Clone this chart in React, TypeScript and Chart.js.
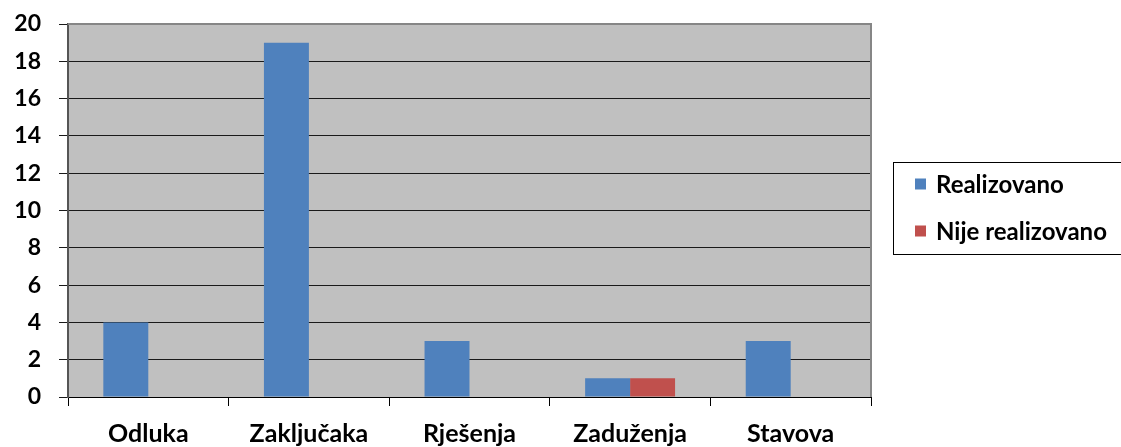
import React, { useEffect, useRef } from "react";
import { Chart, registerables } from "chart.js";

Chart.register(...registerables);

const categories = ["Odluka", "Zaključaka", "Rješenja", "Zaduženja", "Stavova"];
const realizovano = [4, 19, 3, 1, 3];
const nijeRealizovano = [0, 0, 0, 1, 0];
const seriesLabels = ["Realizovano", "Nije realizovano"];
const seriesColors = ["#4F81BD", "#C0504D"];
const yMin = 0;
const yMax = 20;
const yStep = 2;

const FONT = "Lato, 'Open Sans', sans-serif";

const plotBgPlugin = {
  id: "plotBg",
  beforeDraw(chart: any) {
    const { ctx, chartArea } = chart;
    ctx.save();
    ctx.fillStyle = "#C0C0C0";
    ctx.fillRect(chartArea.left, chartArea.top, chartArea.right - chartArea.left, chartArea.bottom - chartArea.top);
    ctx.restore();
  },
  afterDraw(chart: any) {
    const { ctx, chartArea } = chart;
    ctx.save();
    ctx.strokeStyle = "#868686";
    ctx.lineWidth = 2;
    ctx.beginPath();
    ctx.moveTo(chartArea.left, chartArea.top);
    ctx.lineTo(chartArea.right, chartArea.top);
    ctx.lineTo(chartArea.right, chartArea.bottom);
    ctx.stroke();

    const boxLeft = 893.5;
    const boxTop = 162.5;
    const boxRight = 1125;
    const boxBottom = 254.5;
    ctx.strokeStyle = "#000";
    ctx.lineWidth = 1;
    ctx.strokeRect(boxLeft, boxTop, boxRight - boxLeft, boxBottom - boxTop);
    const rowY = [184, 231];
    ctx.font = `bold 24px ${FONT}`;
    ctx.textBaseline = "middle";
    ctx.textAlign = "left";
    chart.data.datasets.forEach((ds: any, i: number) => {
      const y = rowY[i];
      ctx.fillStyle = ds.backgroundColor;
      ctx.fillRect(915, y - 5.5, 11, 11);
      ctx.fillStyle = "#000";
      ctx.fillText(ds.label, 936, y + 1);
    });
    ctx.restore();
  },
};

export default function App() {
  const ref = useRef<HTMLCanvasElement>(null);
  useEffect(() => {
    document.body.style.margin = "0";
    const canvas = ref.current;
    if (!canvas) return;
    const chart = new Chart(canvas, {
      type: "bar",
      data: {
        labels: categories,
        datasets: [
          { label: seriesLabels[0], data: realizovano, backgroundColor: seriesColors[0], borderWidth: 0 },
          { label: seriesLabels[1], data: nijeRealizovano, backgroundColor: seriesColors[1], borderWidth: 0 },
        ],
      },
      options: {
        animation: false,
        responsive: false,
        maintainAspectRatio: false,
        layout: { padding: { top: 24, right: 250, left: 0, bottom: 0 } },
        plugins: {
          legend: { display: false },
          tooltip: { enabled: false },
        },
        datasets: {
          bar: { categoryPercentage: 0.56, barPercentage: 1 },
        },
        scales: {
          x: {
            grid: {
              display: true,
              drawOnChartArea: false,
              drawTicks: true,
              tickLength: 9,
              color: "#000",
              offset: true,
            },
            border: { display: true, color: "#000", width: 1 },
            ticks: {
              color: "#000",
              padding: 13,
              font: { family: FONT, size: 25, weight: "bold" },
              maxRotation: 0,
              autoSkip: false,
            },
            afterFit(scale: any) {
              scale.height = 50;
              scale.paddingLeft = 0;
              scale.paddingRight = 0;
            },
          },
          y: {
            min: yMin,
            max: yMax,
            ticks: {
              stepSize: yStep,
              color: "#000",
              padding: 18,
              font: { family: FONT, size: 23, weight: "bold" },
            },
            grid: {
              color: "#1a1a1a",
              lineWidth: 1,
              drawTicks: true,
              tickLength: 9,
            },
            border: { display: true, color: "#555", width: 2 },
            afterFit(scale: any) {
              scale.width = 68;
              scale.paddingTop = 0;
              scale.paddingBottom = 0;
            },
          },
        },
      },
      plugins: [plotBgPlugin],
    });
    return () => chart.destroy();
  }, []);
  return (
    <div style={{ width: 1121, height: 447 }}>
      <canvas ref={ref} width={1121} height={447} style={{ display: "block" }} />
    </div>
  );
}
